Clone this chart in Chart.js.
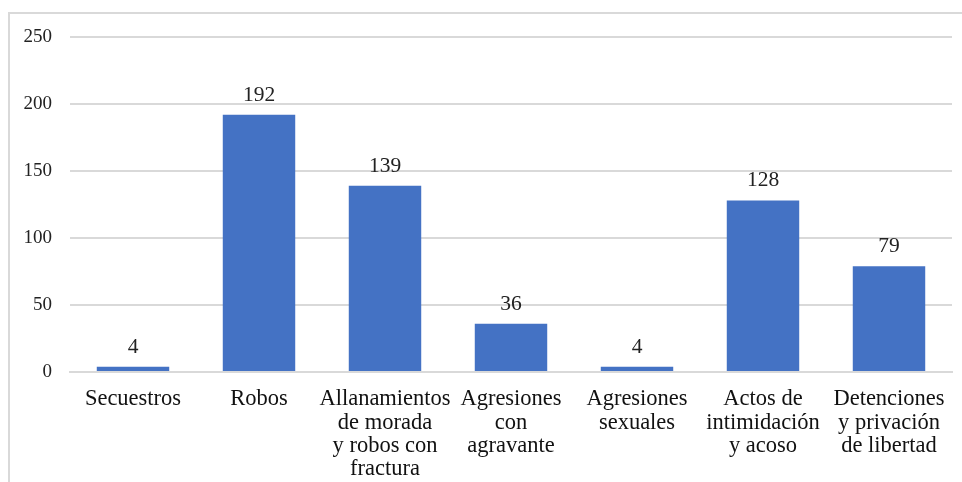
<!DOCTYPE html>
<html lang="es">
<head>
  <meta charset="UTF-8" />
  <title>Delitos</title>
  <script src="https://cdn.jsdelivr.net/npm/chart.js"></script>
  <style>
    html, body { margin: 0; padding: 0; background: #fff; }
    .chart-box { position: relative; width: 962px; height: 482px; }
  </style>
</head>
<body>
  <div class="chart-box">
    <canvas id="crimeChart"></canvas>
  </div>
  <script>
    const categories = [
      ['Secuestros'],
      ['Robos'],
      ['Allanamientos', 'de morada', 'y robos con', 'fractura'],
      ['Agresiones', 'con', 'agravante'],
      ['Agresiones', 'sexuales'],
      ['Actos de', 'intimidación', 'y acoso'],
      ['Detenciones', 'y privación', 'de libertad']
    ];
    const values = [4, 192, 139, 36, 4, 128, 79];
    const yTicks = [0, 50, 100, 150, 200, 250];

    const serif = "'Liberation Serif', 'Times New Roman', serif";

    // light grey frame around the whole chart
    const framePlugin = {
      id: 'frame',
      beforeDraw(chart) {
        const c = chart.ctx;
        c.save();
        c.strokeStyle = '#d9d9d9';
        c.lineWidth = 2;
        c.beginPath();
        c.moveTo(9, chart.height + 5);
        c.lineTo(9, 13);
        c.lineTo(chart.width + 5, 13);
        c.stroke();
        c.restore();
      }
    };

    // value above each bar
    const valueLabels = {
      id: 'valueLabels',
      afterDatasetsDraw(chart) {
        const c = chart.ctx;
        const meta = chart.getDatasetMeta(0);
        c.save();
        c.font = '21.5px ' + serif;
        c.fillStyle = '#222';
        c.textAlign = 'center';
        c.textBaseline = 'alphabetic';
        meta.data.forEach((bar, i) => {
          c.fillText(String(values[i]), bar.x, bar.y - 14);
        });
        c.restore();
      }
    };

    new Chart(document.getElementById('crimeChart'), {
      type: 'bar',
      data: {
        labels: categories,
        datasets: [{
          data: values,
          backgroundColor: '#4472c4',
          barPercentage: 0.575,
          categoryPercentage: 1
        }]
      },
      options: {
        responsive: true,
        maintainAspectRatio: false,
        animation: false,
        layout: { padding: { top: 37, right: 10, left: 0, bottom: 0 } },
        scales: {
          x: {
            grid: { display: false, drawTicks: false },
            border: { color: '#d9d9d9', width: 2 },
            ticks: {
              color: '#111',
              padding: 16,
              maxRotation: 0,
              autoSkip: false,
              font: { family: serif, size: 22.5, lineHeight: 1.03 }
            },
            afterFit(scale) { scale.height = 110; }
          },
          y: {
            min: 0,
            max: 250,
            afterBuildTicks(scale) { scale.ticks = yTicks.map(v => ({ value: v })); },
            grid: { color: '#d9d9d9', lineWidth: 2, drawTicks: false },
            border: { display: false },
            ticks: {
              color: '#222',
              padding: 18,
              font: { family: serif, size: 19 }
            },
            afterFit(scale) { scale.width = 70; }
          }
        },
        plugins: {
          legend: { display: false },
          tooltip: { enabled: false }
        }
      },
      plugins: [framePlugin, valueLabels]
    });
  </script>
</body>
</html>
